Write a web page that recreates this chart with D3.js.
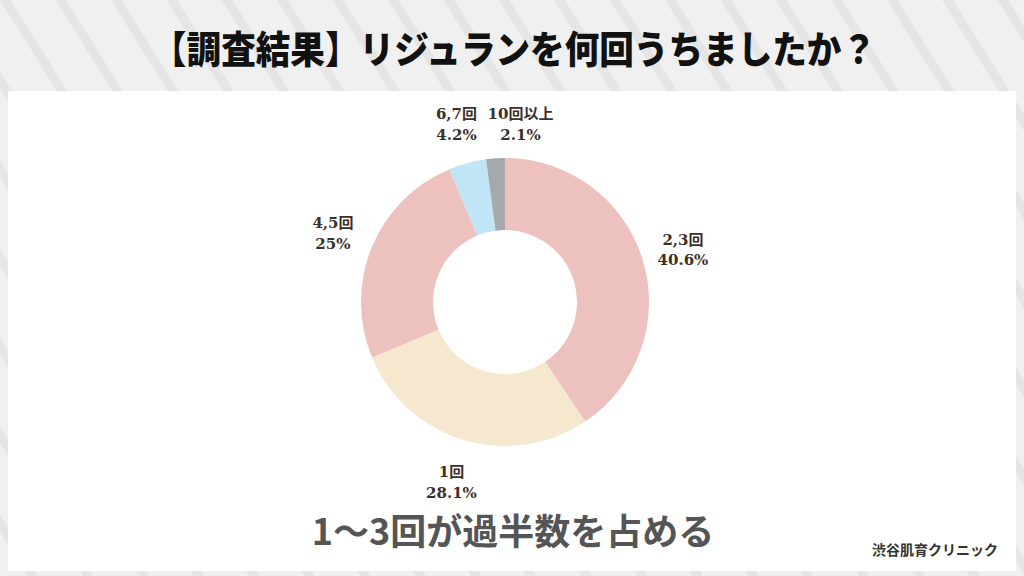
<!DOCTYPE html>
<html>
<head>
<meta charset="utf-8">
<script src="https://cdn.jsdelivr.net/npm/d3@7"></script>
<style>
    html, body { margin: 0; padding: 0; background: #f0f0f0; }
    svg { display: block; }
</style>
</head>
<body>
<div id="chart-location"></div>
<script>
// (DATA) survey answers, clockwise from 12 o'clock
var categories = ["2,3回", "1回", "4,5回", "6,7回", "10回以上"];
var values = [40.6, 28.1, 25, 4.2, 2.1];
var percentLabels = ["40.6%", "28.1%", "25%", "4.2%", "2.1%"];

var titleText = "【調査結果】リジュランを何回うちましたか？";
var summaryText = "1〜3回が過半数を占める";
var sourceText = "渋谷肌育クリニック";

function init () {

    // (VARIABLES) svg size
    var w = 1024;
    var h = 576;

    // pie centre and radii
    var cx = 505;
    var cy = 302;
    var outerR = 144;
    var innerR = 72;
    var labelR = 186;

    var sansJP = "'Noto Sans CJK JP', 'Noto Sans', sans-serif";
    var labelFont = "'DejaVu Serif', 'Liberation Serif', 'Noto Sans CJK JP', serif";

    // (COLOURS) one per slice
    var colour = d3.scaleOrdinal()
        .domain(d3.range(values.length))
        .range(["#edc1bd", "#f6e7cf", "#edc1bd", "#bfe5f7", "#a7a8ab"]);

    var svg = d3.select("#chart-location")
        .append("svg")
        .attr("width", w)
        .attr("height", h);

    // (BACKGROUND) grey with faint diagonal stripes
    var defs = svg.append("defs");
    var pattern = defs.append("pattern")
        .attr("id", "stripes")
        .attr("patternUnits", "userSpaceOnUse")
        .attr("width", 47)
        .attr("height", 47)
        .attr("patternTransform", "rotate(-32)");
    pattern.append("rect")
        .attr("width", 47)
        .attr("height", 47)
        .attr("fill", "#f0f0f0");
    pattern.append("rect")
        .attr("width", 9)
        .attr("height", 47)
        .attr("fill", "#e5e5e5");

    svg.append("rect")
        .attr("width", w)
        .attr("height", h)
        .attr("fill", "url(#stripes)");

    // (PANEL) white card behind the chart
    svg.append("rect")
        .attr("x", 8)
        .attr("y", 91)
        .attr("width", 1008)
        .attr("height", 480)
        .attr("fill", "#ffffff");

    // (TITLE)
    svg.append("text")
        .attr("x", 514)
        .attr("y", 46)
        .attr("text-anchor", "middle")
        .attr("dominant-baseline", "central")
        .attr("textLength", 724)
        .attr("lengthAdjust", "spacingAndGlyphs")
        .style("font-family", sansJP)
        .style("font-weight", 900)
        .style("font-size", "38px")
        .attr("fill", "#111111")
        .text(titleText);

    // (PIE) donut slices
    var pie = d3.pie()
        .sort(null)
        .value(function(d) { return d; });

    var arcs = pie(values);

    var arc = d3.arc()
        .innerRadius(innerR)
        .outerRadius(outerR);

    var labelArc = d3.arc()
        .innerRadius(labelR)
        .outerRadius(labelR);

    var g = svg.append("g")
        .attr("transform", "translate(" + cx + "," + cy + ")");

    g.selectAll("path")
        .data(arcs)
        .enter()
        .append("path")
        .attr("d", arc)
        .attr("fill", function(d, i) { return colour(i); });

    // (LABELS) placed at centroid on a wider ring, pushed apart if they collide
    var labelPos = arcs.map(function(d) { return labelArc.centroid(d); });
    for (var i = 1; i < labelPos.length; i++) {
        var prev = labelPos[i - 1];
        var cur = labelPos[i];
        if (Math.abs(cur[0] - prev[0]) < 64 && Math.abs(cur[1] - prev[1]) < 40) {
            labelPos[i] = [prev[0] + 64, prev[1]];
        }
    }

    var labels = g.selectAll("g.label")
        .data(arcs)
        .enter()
        .append("g")
        .attr("class", "label")
        .attr("transform", function(d, i) {
            return "translate(" + labelPos[i][0] + "," + (labelPos[i][1] + 2) + ")";
        })
        .style("font-family", labelFont)
        .style("font-weight", "bold")
        .style("font-size", "15px")
        .attr("fill", "#3b302a")
        .attr("text-anchor", "middle");

    labels.append("text")
        .attr("y", -10)
        .attr("dominant-baseline", "central")
        .text(function(d, i) { return categories[i]; });

    labels.append("text")
        .attr("y", 10.5)
        .attr("dominant-baseline", "central")
        .text(function(d, i) { return percentLabels[i]; });

    // (SUMMARY) bottom message
    svg.append("text")
        .attr("x", 513)
        .attr("y", 529)
        .attr("text-anchor", "middle")
        .attr("dominant-baseline", "central")
        .style("font-family", sansJP)
        .style("font-weight", "bold")
        .style("font-size", "36px")
        .attr("fill", "#555555")
        .text(summaryText);

    // (SOURCE) clinic name bottom right
    svg.append("text")
        .attr("x", 998)
        .attr("y", 549)
        .attr("text-anchor", "end")
        .attr("dominant-baseline", "central")
        .style("font-family", sansJP)
        .style("font-weight", "bold")
        .style("font-size", "14px")
        .attr("fill", "#333333")
        .text(sourceText);
}

window.onload = init;
</script>
</body>
</html>
